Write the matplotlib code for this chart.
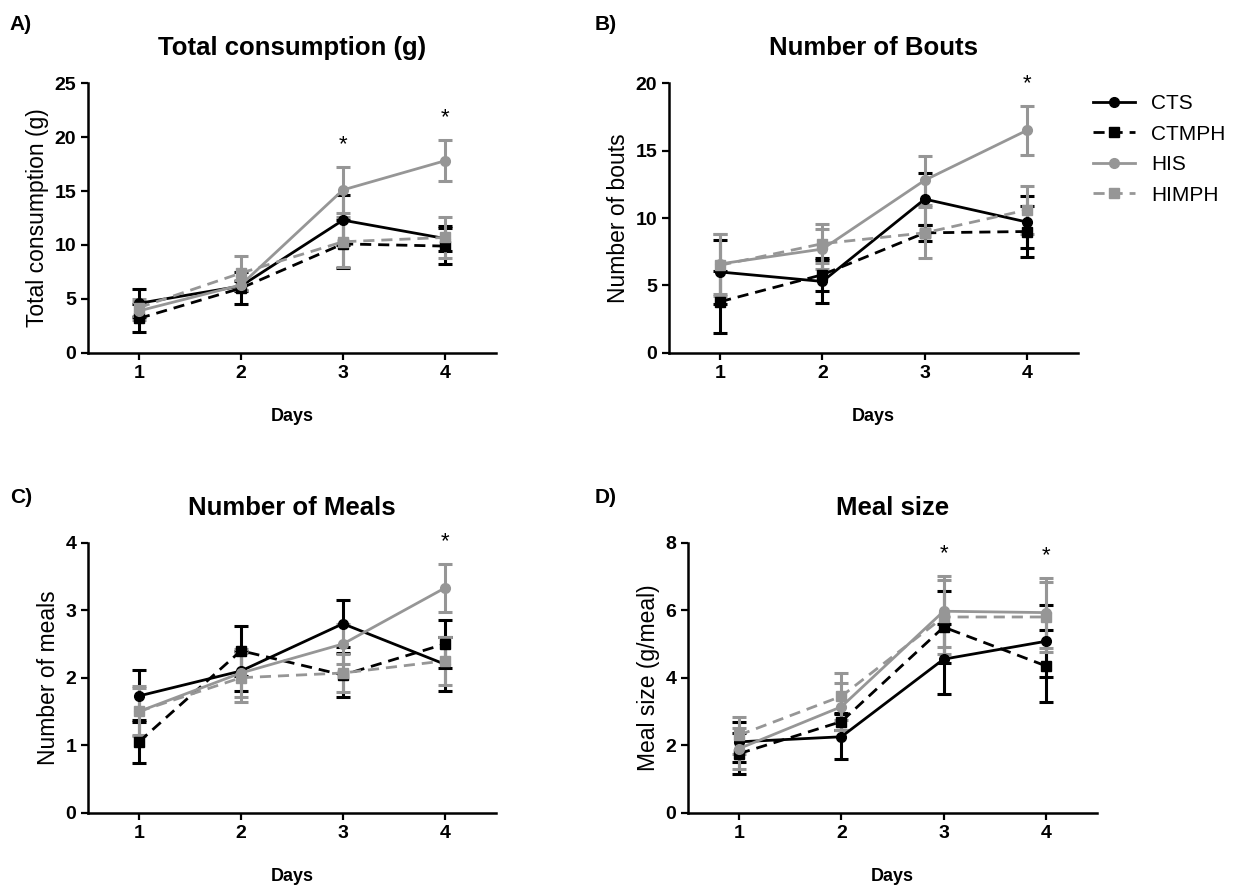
import numpy as np
import matplotlib
matplotlib.use("Agg")
import matplotlib.pyplot as plt
from matplotlib.lines import Line2D

plt.rcParams['font.family'] = ['Liberation Sans', 'DejaVu Sans']

days = [1, 2, 3, 4]
groups = ['CTS', 'CTMPH', 'HIS', 'HIMPH']

# A) total consumption (g)
cons_mean = {'CTS': [4.6, 6.2, 12.3, 10.6], 'CTMPH': [3.2, 6.0, 10.1, 9.9],
             'HIS': [3.9, 6.3, 15.1, 17.8], 'HIMPH': [4.2, 7.4, 10.3, 10.7]}
cons_sem = {'CTS': [1.3, 0.5, 2.3, 1.2], 'CTMPH': [1.3, 1.5, 2.2, 1.7],
            'HIS': [0.8, 0.5, 2.1, 1.9], 'HIMPH': [0.8, 1.6, 2.3, 1.9]}

# B) number of bouts
bouts_mean = {'CTS': [6.0, 5.3, 11.4, 9.7], 'CTMPH': [3.8, 5.8, 8.9, 9.0],
              'HIS': [6.6, 7.7, 12.8, 16.5], 'HIMPH': [6.5, 8.1, 8.9, 10.6]}
bouts_sem = {'CTS': [2.4, 1.6, 1.9, 1.9], 'CTMPH': [2.3, 1.2, 0.6, 1.9],
             'HIS': [2.2, 1.5, 1.8, 1.8], 'HIMPH': [2.3, 1.45, 1.9, 1.8]}

# C) number of meals
meals_mean = {'CTS': [1.73, 2.1, 2.8, 2.2], 'CTMPH': [1.05, 2.4, 2.04, 2.5],
              'HIS': [1.5, 2.07, 2.5, 3.33], 'HIMPH': [1.5, 2.0, 2.07, 2.25]}
meals_sem = {'CTS': [0.38, 0.3, 0.35, 0.4], 'CTMPH': [0.32, 0.37, 0.33, 0.36],
             'HIS': [0.37, 0.35, 0.3, 0.36], 'HIMPH': [0.35, 0.36, 0.28, 0.36]}

# D) meal size (g/meal)
size_mean = {'CTS': [2.1, 2.25, 4.55, 5.08], 'CTMPH': [1.75, 2.7, 5.5, 4.35],
             'HIS': [1.9, 3.14, 5.97, 5.93], 'HIMPH': [2.3, 3.45, 5.8, 5.8]}
size_sem = {'CTS': [0.6, 0.67, 1.03, 1.07], 'CTMPH': [0.6, 0.25, 1.07, 1.06],
            'HIS': [0.6, 0.7, 1.05, 1.04], 'HIMPH': [0.55, 0.7, 1.1, 1.05]}

panels = [
    ('A)', 'Total consumption (g)', 'Total consumption (g)', cons_mean, cons_sem, 25, 5, [3, 4]),
    ('B)', 'Number of Bouts', 'Number of bouts', bouts_mean, bouts_sem, 20, 5, [4]),
    ('C)', 'Number of Meals', 'Number of meals', meals_mean, meals_sem, 4, 1, [4]),
    ('D)', 'Meal size', 'Meal size (g/meal)', size_mean, size_sem, 8, 2, [3, 4]),
]

gray = '#969696'
styles = {'CTS': dict(color='black', ls='-', marker='o'),
          'CTMPH': dict(color='black', ls=(0, (4, 2.5)), marker='s'),
          'HIS': dict(color=gray, ls='-', marker='o'),
          'HIMPH': dict(color=gray, ls=(0, (4, 2.5)), marker='s')}

fig = plt.figure(figsize=(12.36, 8.88), dpi=100)
rects = [[0.0712, 0.6025, 0.330, 0.304], [0.5413, 0.6025, 0.331, 0.304],
         [0.0712, 0.0848, 0.330, 0.304], [0.5566, 0.0848, 0.331, 0.304]]
labpos = [(0.008, 0.972), (0.481, 0.972), (0.008, 0.44), (0.481, 0.44)]

for (tag, title, ylab, mean, sem, ymax, ystep, stars), r, lp in zip(panels, rects, labpos):
    ax = fig.add_axes(r)
    for g in groups:
        st = styles[g]
        ax.errorbar(days, mean[g], yerr=sem[g], color=st['color'], ls=st['ls'],
                    marker=st['marker'], ms=7, lw=2, elinewidth=2.2,
                    capsize=5, capthick=2.2, clip_on=False)
    for d in stars:
        i = d - 1
        top = mean['HIS'][i] + sem['HIS'][i]
        ax.annotate('*', (d, top), xytext=(0, 16), textcoords='offset points',
                    ha='center', va='center', fontsize=16)
    ax.set_xlim(0.5, 4.5)
    ax.set_ylim(0, ymax)
    ax.set_xticks(days)
    ax.set_yticks(np.arange(0, ymax + 0.01, ystep))
    for s in ['top', 'right']:
        ax.spines[s].set_visible(False)
    for s in ['left', 'bottom']:
        ax.spines[s].set_linewidth(1.8)
    ax.tick_params(width=1.6, length=5, labelsize=14)
    for t in ax.get_xticklabels() + ax.get_yticklabels():
        t.set_fontweight('bold')
    ax.set_ylabel(ylab, fontsize=16.5)
    ax.set_xlabel('Days', fontsize=13, fontweight='bold', labelpad=19)
    ax.set_title(title, fontsize=18.5, fontweight='bold', pad=20)
    fig.text(lp[0], lp[1], tag, fontsize=15, fontweight='bold', va='center')

handles = [Line2D([], [], color=styles[g]['color'], ls=styles[g]['ls'],
                  marker=styles[g]['marker'], ms=7, lw=2) for g in groups]
fig.legend(handles, groups, loc='upper left', bbox_to_anchor=(0.869, 0.915),
           frameon=False, fontsize=15, handlelength=2.0, labelspacing=0.55)

fig.savefig('out.png', dpi=100)
